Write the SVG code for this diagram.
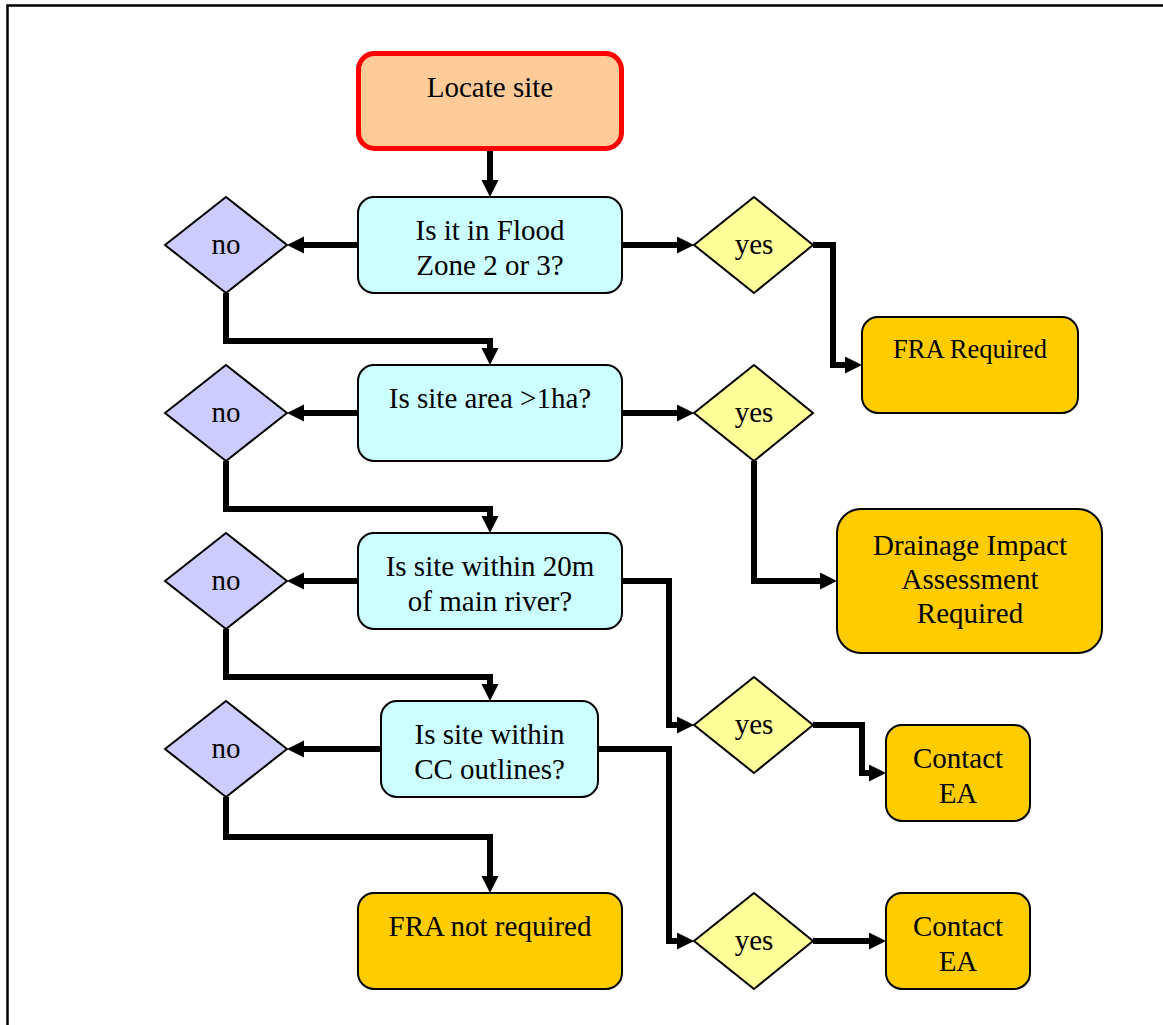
<svg xmlns="http://www.w3.org/2000/svg" width="1163" height="1025" viewBox="0 0 1163 1025">
<style>
text{font-family:"Liberation Serif","Times New Roman",serif;font-size:29px;fill:#000;text-anchor:middle}
.q{fill:#CCFFFF;stroke:#000;stroke-width:2}
.r{fill:#FFCC00;stroke:#000;stroke-width:2}
.no{fill:#CCCCFF;stroke:#000;stroke-width:2}
.yes{fill:#FFFF99;stroke:#000;stroke-width:2}
.c path{fill:none;stroke:#000;stroke-width:6;marker-end:url(#ah)}
</style>
<defs>
<marker id="ah" markerUnits="userSpaceOnUse" markerWidth="18" markerHeight="18" refX="5" refY="8.5" orient="auto">
<path d="M0,0 L17,8.5 L0,17 z" fill="#000"/>
</marker>
</defs>
<rect width="1163" height="1025" fill="#fff"/>
<path d="M7.5,1030 L7.5,5.5 L1170,5.5" fill="none" stroke="#000" stroke-width="2.5"/>

<g class="c" id="connectors">
<path d="M490,150 L490,185"/>
<path d="M358,245 L299,245"/>
<path d="M622,245 L682,245"/>
<path d="M813,245 L833,245 L833,365 L850,365"/>
<path d="M226,293 L226,341 L490,341 L490,353"/>
<path d="M358,413 L299,413"/>
<path d="M622,413 L682,413"/>
<path d="M754,461 L754,581 L825,581"/>
<path d="M226,461 L226,509 L490,509 L490,521"/>
<path d="M358,581 L299,581"/>
<path d="M622,581 L669,581 L669,725 L682,725"/>
<path d="M813,725 L862,725 L862,773 L874,773"/>
<path d="M226,629 L226,677 L490,677 L490,689"/>
<path d="M381,749 L299,749"/>
<path d="M598,749 L669,749 L669,941 L682,941"/>
<path d="M813,941 L874,941"/>
<path d="M226,797 L226,837 L490,837 L490,881"/>
</g>

<g id="locate"><rect x="358.5" y="53.5" width="263" height="95" rx="16" fill="#FFCC99" stroke="#FF0000" stroke-width="5"/><text x="490" y="97">Locate site</text></g>
<g id="q1"><rect class="q" x="358" y="197" width="264" height="96" rx="16"/><text x="490" y="240">Is it in Flood</text><text x="490" y="275">Zone 2 or 3?</text></g>
<g id="q2"><rect class="q" x="358" y="365" width="264" height="96" rx="16"/><text x="490" y="408">Is site area &gt;1ha?</text></g>
<g id="q3"><rect class="q" x="358" y="533" width="264" height="96" rx="16"/><text x="490" y="576">Is site within 20m</text><text x="490" y="611">of main river?</text></g>
<g id="q4"><rect class="q" x="381" y="701" width="217" height="96" rx="16"/><text x="489.5" y="744">Is site within</text><text x="489.5" y="779">CC outlines?</text></g>

<g id="no1"><polygon class="no" points="165,245 226,197 287,245 226,293"/><text x="226" y="254">no</text></g>
<g id="no2"><polygon class="no" points="165,413 226,365 287,413 226,461"/><text x="226" y="422">no</text></g>
<g id="no3"><polygon class="no" points="165,581 226,533 287,581 226,629"/><text x="226" y="590">no</text></g>
<g id="no4"><polygon class="no" points="165,749 226,701 287,749 226,797"/><text x="226" y="758">no</text></g>

<g id="yes1"><polygon class="yes" points="694,245 754,197 813,245 754,293"/><text x="754" y="254">yes</text></g>
<g id="yes2"><polygon class="yes" points="694,413 754,365 813,413 754,461"/><text x="754" y="422">yes</text></g>
<g id="yes3"><polygon class="yes" points="694,725 754,677 813,725 754,773"/><text x="754" y="734">yes</text></g>
<g id="yes4"><polygon class="yes" points="694,941 754,893 813,941 754,989"/><text x="754" y="950">yes</text></g>

<g id="fraReq"><rect class="r" x="862" y="317" width="216" height="96" rx="16"/><text x="970" y="358" style="font-size:26.5px">FRA Required</text></g>
<g id="dia"><rect class="r" x="837" y="509" width="265" height="144" rx="24"/><text x="970" y="555">Drainage Impact</text><text x="970" y="589">Assessment</text><text x="970" y="623">Required</text></g>
<g id="ea1"><rect class="r" x="886" y="725" width="144" height="96" rx="16"/><text x="958" y="768">Contact</text><text x="958" y="803">EA</text></g>
<g id="fraNot"><rect class="r" x="358" y="893" width="264" height="96" rx="16"/><text x="490" y="936">FRA not required</text></g>
<g id="ea2"><rect class="r" x="886" y="893" width="144" height="96" rx="16"/><text x="958" y="936">Contact</text><text x="958" y="971">EA</text></g>
</svg>
